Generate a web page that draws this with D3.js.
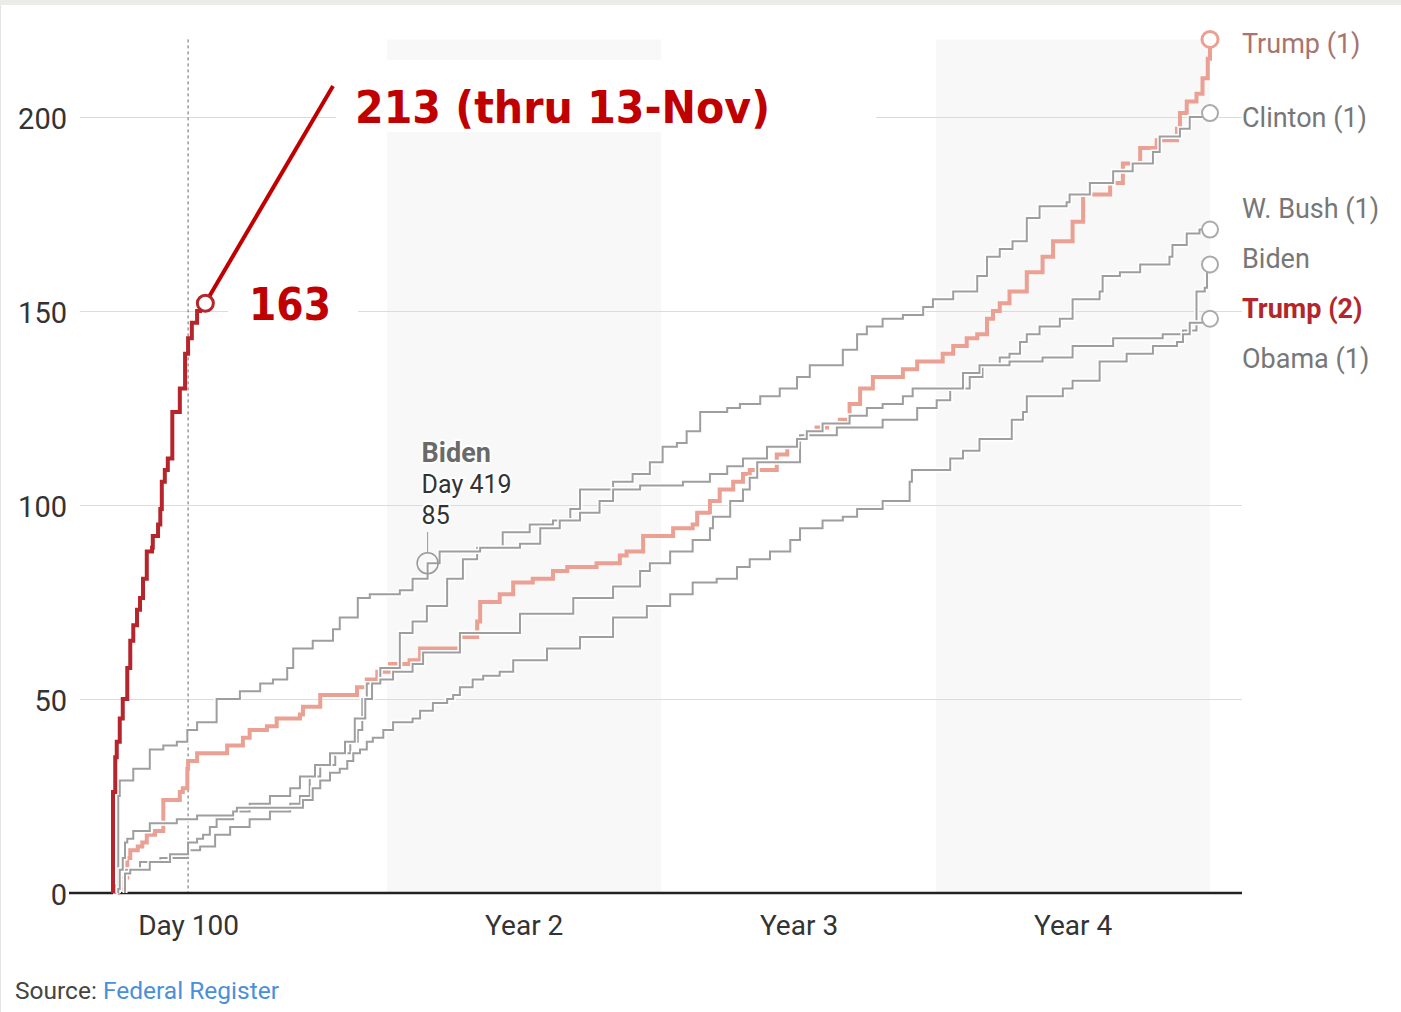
<!DOCTYPE html>
<html>
<head>
<meta charset="utf-8">
<script src="https://cdn.jsdelivr.net/npm/d3@7"></script>
<style>
  body { margin: 0; background: #fff; }
  svg text { font-family: Roboto, "Liberation Sans", sans-serif; }
</style>
</head>
<body>
<script>

// cumulative executive orders, [day in office, count]
const trump1 = [[0,0],[7,1],[13,4],[19,9],[23,11],[33,12],[39,13],[45,15],[56,16],[67,17],[67,24],[89,26],[93,27],[99,29],[99,32],[100,34],[112,36],[142,36],[152,38],[173,40],[182,42],[205,43],[218,45],[249,46],[253,48],[276,51],[309,51],[325,53],[338,55],[352,57],[369,59],[395,60],[409,63],[445,63],[462,66],[485,70],[489,75],[511,75],[515,77],[533,80],[559,81],[586,83],[605,84],[644,85],[675,87],[684,88],[706,92],[732,92],[746,94],[772,95],[778,98],[795,101],[808,104],[826,106],[839,108],[848,109],[884,113],[898,115],[911,117],[924,119],[937,120],[951,121],[968,122],[981,126],[995,130],[1012,133],[1035,133],[1052,135],[1071,137],[1088,137],[1105,139],[1119,141],[1137,143],[1151,144],[1164,148],[1172,150],[1181,152],[1194,155],[1217,160],[1238,164],[1252,168],[1278,173],[1292,180],[1328,183],[1345,188],[1368,192],[1390,194],[1417,197],[1421,201],[1430,204],[1443,206],[1451,210],[1458,215],[1461,220]];

const clinton1 = [[0,0],[3,2],[9,4],[16,6],[36,8],[63,9],[100,11],[116,12],[136,15],[156,17],[182,19],[209,21],[236,23],[249,25],[262,30],[276,33],[296,36],[316,39],[326,42],[332,50],[338,54],[356,58],[382,67],[399,70],[418,74],[445,81],[466,86],[485,89],[519,93],[555,95],[586,96],[609,99],[622,104],[648,104],[666,106],[692,108],[715,111],[732,115],[751,116],[764,119],[782,124],[818,125],[835,126],[862,128],[888,130],[911,133],[928,136],[964,136],[972,140],[991,144],[1004,146],[1025,148],[1052,149],[1079,151],[1092,153],[1119,155],[1151,159],[1164,164],[1181,166],[1198,168],[1217,174],[1234,177],[1270,178],[1274,180],[1301,183],[1332,186],[1358,188],[1385,191],[1394,195],[1421,197],[1434,200],[1457,201],[1461,201]];

const bush1 = [[16,0],[16,5],[23,6],[49,8],[76,10],[100,13],[112,14],[120,15],[129,17],[138,19],[160,21],[182,23],[209,25],[236,27],[249,30],[269,33],[289,36],[309,39],[322,45],[336,50],[345,54],[356,55],[373,57],[399,59],[413,62],[462,67],[542,72],[613,76],[666,79],[702,83],[715,85],[742,88],[768,88],[772,91],[795,94],[799,97],[822,101],[839,104],[848,107],[858,111],[888,111],[915,118],[964,120],[1025,122],[1071,125],[1097,127],[1115,130],[1141,133],[1158,136],[1181,138],[1194,139],[1208,142],[1217,144],[1234,146],[1261,148],[1278,153],[1314,155],[1318,159],[1341,160],[1368,162],[1407,164],[1411,167],[1430,170],[1447,171],[1461,171]];

const biden = [[7,0],[7,25],[9,29],[27,32],[49,37],[67,38],[85,39],[99,42],[112,44],[138,50],[169,52],[196,54],[213,55],[232,58],[240,63],[266,65],[293,68],[302,71],[326,76],[342,77],[362,77],[382,78],[399,81],[413,81],[419,85],[435,88],[462,88],[489,89],[542,90],[569,94],[595,96],[622,98],[648,101],[666,104],[702,105],[759,106],[795,108],[818,110],[839,112],[871,115],[911,117],[924,119],[945,121],[981,123],[1004,125],[1025,126],[1052,128],[1065,130],[1111,130],[1132,134],[1154,136],[1194,137],[1238,138],[1278,141],[1332,143],[1398,144],[1425,145],[1443,148],[1443,155],[1454,156],[1457,160],[1461,162]];

const obama1 = [[7,0],[7,1],[9,6],[13,9],[16,13],[19,14],[27,16],[49,17],[49,18],[85,19],[112,20],[160,21],[165,22],[249,22],[253,24],[266,27],[276,29],[289,31],[302,32],[312,34],[320,36],[329,37],[338,39],[346,40],[360,42],[373,44],[399,45],[409,47],[426,49],[445,50],[453,51],[462,53],[479,55],[493,56],[515,57],[533,60],[578,63],[622,66],[666,71],[711,74],[742,77],[772,80],[804,81],[831,84],[848,86],[875,88],[902,91],[915,94],[945,96],[972,97],[991,99],[1025,101],[1061,106],[1064,109],[1092,109],[1115,112],[1132,114],[1154,117],[1177,117],[1197,122],[1212,124],[1217,128],[1238,128],[1265,130],[1278,132],[1314,137],[1350,139],[1385,141],[1417,142],[1425,144],[1434,147],[1457,148],[1461,148]];

const trump2 = [[0,0],[0,26],[3,35],[5,39],[9,45],[13,50],[19,58],[23,65],[27,69],[32,73],[36,76],[40,81],[45,88],[52,89],[53,92],[60,95],[63,99],[65,106],[69,109],[73,112],[76,112],[79,116],[79,124],[87,124],[89,130],[96,130],[96,139],[100,143],[105,147],[109,147],[112,150],[116,152],[123,152]];

const greySeries = [clinton1, bush1, biden, obama1];
const endLabels = ["Trump (1)", "Clinton (1)", "W. Bush (1)", "Biden", "Trump (2)", "Obama (1)"];
const yTicks = [0, 50, 100, 150, 200];
const xTickDays = [100, 547, 913, 1278];
const xTickLabels = ["Day 100", "Year 2", "Year 3", "Year 4"];
const shadedYears = [[365, 730], [1096, 1461]];
const bidenNote = ["Biden", "Day 419", "85"];
const bidenNoteDay = 419, bidenNoteCount = 85;
const trump2Shown = "163";
const trump2Latest = "213 (thru 13-Nov)";
const trump2LatestAt = [293, 208];

window.onload = function() {

  const width = 1401, height = 1012;

  const xScale = d3.scaleLinear().domain([0, 1461]).range([113, 1210]);
  const yScale = d3.scaleLinear().domain([0, 200]).range([893, 117]);
  const top = yScale(220);

  const svg = d3.select("body").append("svg")
      .attr("width", width)
      .attr("height", height);

  // page frame
  svg.append("rect").attr("width", width).attr("height", 5).attr("fill", "#ebecea");
  svg.append("rect").attr("y", 5).attr("width", 1).attr("height", height).attr("fill", "#e4e4e4");

  // shaded years
  svg.selectAll(".band")
      .data(shadedYears)
      .enter().append("rect")
      .attr("class", "band")
      .attr("x", d => xScale(d[0]))
      .attr("width", d => xScale(d[1]) - xScale(d[0]))
      .attr("y", top)
      .attr("height", yScale(0) - top)
      .attr("fill", "#f8f8f8");

  // gridlines + y labels
  const yAxis = d3.axisLeft(yScale)
      .tickValues(yTicks)
      .tickSize(-(1242 - 80))
      .tickPadding(13);

  const gy = svg.append("g")
      .attr("transform", "translate(80,0)")
      .call(yAxis);
  gy.select(".domain").remove();
  gy.selectAll("line").attr("stroke", "#dcdcdc").attr("stroke-width", 1.2);
  gy.selectAll("text")
      .attr("fill", "#333")
      .attr("dy", "0.4em")
      .style("font-size", "29px");

  // day 100 marker
  svg.append("line")
      .attr("x1", xScale(100)).attr("x2", xScale(100))
      .attr("y1", top).attr("y2", yScale(0))
      .attr("stroke", "#666")
      .attr("stroke-dasharray", "3,3");

  // white boxes behind the big annotations
  svg.append("rect").attr("x", 336).attr("y", 60).attr("width", 540).attr("height", 72).attr("fill", "#fff");
  svg.append("rect").attr("x", 228).attr("y", 282).attr("width", 130).attr("height", 48).attr("fill", "#fff");

  // baseline
  svg.append("line")
      .attr("x1", 69).attr("x2", 1242)
      .attr("y1", yScale(0)).attr("y2", yScale(0))
      .attr("stroke", "#222")
      .attr("stroke-width", 2.5);

  // x labels
  const xAxis = d3.axisBottom(xScale)
      .tickValues(xTickDays)
      .tickFormat((d, i) => xTickLabels[i])
      .tickSize(0)
      .tickPadding(22);
  const gx = svg.append("g")
      .attr("transform", "translate(0," + yScale(0) + ")")
      .call(xAxis);
  gx.select(".domain").remove();
  gx.selectAll("text").attr("fill", "#333").style("font-size", "28px");

  const line = d3.line()
      .x(d => xScale(d[0]))
      .y(d => yScale(d[1]))
      .curve(d3.curveStepAfter);

  // Trump first term underneath
  svg.append("path")
      .attr("d", line(trump1))
      .attr("fill", "none")
      .attr("stroke", "#eaa092")
      .attr("stroke-width", 4);

  // grey terms with a white casing
  greySeries.forEach(function(s) {
    svg.append("path")
        .attr("d", line(s))
        .attr("fill", "none")
        .attr("stroke", "#fff")
        .attr("stroke-width", 5);
    svg.append("path")
        .attr("d", line(s))
        .attr("fill", "none")
        .attr("stroke", "#9e9e9e")
        .attr("stroke-width", 2);
  });

  // Trump second term
  svg.append("path")
      .attr("d", line(trump2))
      .attr("fill", "none")
      .attr("stroke", "#b5252b")
      .attr("stroke-width", 4);

  // end circles
  const ends = [trump1, clinton1, bush1, biden, obama1];
  svg.selectAll(".end")
      .data(ends)
      .enter().append("circle")
      .attr("class", "end")
      .attr("cx", d => xScale(d[d.length - 1][0]))
      .attr("cy", d => yScale(d[d.length - 1][1]))
      .attr("r", 8)
      .attr("fill", "#fff")
      .attr("stroke", (d, i) => i == 0 ? "#eaa092" : "#aaa")
      .attr("stroke-width", (d, i) => i == 0 ? 3 : 2);

  // right hand labels
  const labelY = [53, 127, 218, 268, 318, 368];
  svg.selectAll(".endLabel")
      .data(endLabels)
      .enter().append("text")
      .attr("class", "endLabel")
      .attr("x", 1242)
      .attr("y", (d, i) => labelY[i])
      .text(d => d)
      .style("font-size", "27px")
      .style("font-weight", d => d == "Trump (2)" ? "bold" : "normal")
      .attr("fill", (d, i) => i == 0 ? "#a8746e" : (d == "Trump (2)" ? "#b3262b" : "#777"));

  // Biden day 419 note
  const bx = xScale(bidenNoteDay), by = yScale(bidenNoteCount);
  svg.append("line")
      .attr("x1", bx).attr("x2", bx)
      .attr("y1", 532).attr("y2", by - 10)
      .attr("stroke", "#999");
  svg.append("circle")
      .attr("cx", bx).attr("cy", by)
      .attr("r", 10.5)
      .attr("fill", "none")
      .attr("stroke", "#999")
      .attr("stroke-width", 1.5);
  svg.selectAll(".note")
      .data(bidenNote)
      .enter().append("text")
      .attr("class", "note")
      .attr("x", bx - 6)
      .attr("y", (d, i) => 462 + i * 31)
      .text(d => d)
      .style("font-size", (d, i) => i == 0 ? "27px" : "25px")
      .style("font-weight", (d, i) => i == 0 ? "bold" : "normal")
      .attr("fill", (d, i) => i == 0 ? "#6a6a6a" : "#333")
      .attr("stroke", "#fff")
      .attr("stroke-width", 4)
      .attr("paint-order", "stroke");

  // Trump second term annotation
  const last = trump2[trump2.length - 1];
  const cx = xScale(last[0]), cy = yScale(last[1]);
  svg.append("line")
      .attr("x1", cx + 4).attr("y1", cy - 7)
      .attr("x2", xScale(trump2LatestAt[0])).attr("y2", yScale(trump2LatestAt[1]))
      .attr("stroke", "#c00000")
      .attr("stroke-width", 4);
  svg.append("circle")
      .attr("cx", cx).attr("cy", cy)
      .attr("r", 8)
      .attr("fill", "#fff")
      .attr("stroke", "#b5252b")
      .attr("stroke-width", 3);

  svg.append("text")
      .attr("x", 249).attr("y", 320)
      .text(trump2Shown)
      .attr("textLength", 82)
      .attr("lengthAdjust", "spacingAndGlyphs")
      .style("font-family", "'DejaVu Sans', sans-serif")
      .style("font-weight", "bold")
      .style("font-size", "44px")
      .attr("fill", "#c00000");

  svg.append("text")
      .attr("x", 355).attr("y", 123)
      .text(trump2Latest)
      .attr("textLength", 415)
      .attr("lengthAdjust", "spacingAndGlyphs")
      .style("font-family", "'DejaVu Sans', sans-serif")
      .style("font-weight", "bold")
      .style("font-size", "44px")
      .attr("fill", "#c00000");

  // source
  const src = svg.append("text")
      .attr("x", 15).attr("y", 999)
      .style("font-size", "24.5px");
  src.append("tspan").attr("fill", "#444").text("Source: ");
  src.append("tspan").attr("fill", "#4a90d9").text("Federal Register");
}
</script>
</body>
</html>
